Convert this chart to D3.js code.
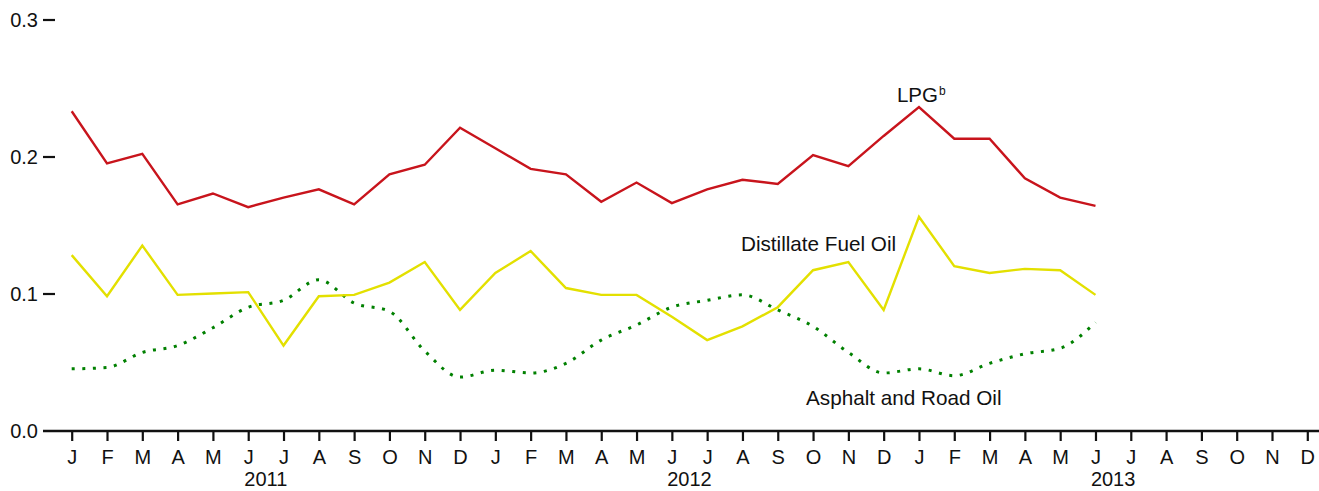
<!DOCTYPE html>
<html>
<head>
<meta charset="utf-8">
<script src="https://cdn.jsdelivr.net/npm/d3@7"></script>
<style>
  html, body { margin: 0; padding: 0; background: #fff; }
  svg text { font-family: "Liberation Sans", Arial, sans-serif; fill: #111; }
</style>
</head>
<body>
<svg id="chart" width="1319" height="491"></svg>
<script>
// ---- data ----
const months = ["J","F","M","A","M","J","J","A","S","O","N","D",
                "J","F","M","A","M","J","J","A","S","O","N","D",
                "J","F","M","A","M","J","J","A","S","O","N","D"];
const years = ["2011", "2012", "2013"];
const yTicks = [0.0, 0.1, 0.2, 0.3];

const lpg = [0.233, 0.195, 0.202, 0.165, 0.173, 0.163, 0.170, 0.176, 0.165, 0.187, 0.194, 0.221,
             0.206, 0.191, 0.187, 0.167, 0.181, 0.166, 0.176, 0.183, 0.180, 0.201, 0.193, 0.215,
             0.236, 0.213, 0.213, 0.184, 0.170, 0.164];
const distillate = [0.128, 0.098, 0.135, 0.099, 0.100, 0.101, 0.062, 0.098, 0.099, 0.108, 0.123, 0.088,
                    0.115, 0.131, 0.104, 0.099, 0.099, 0.083, 0.066, 0.076, 0.090, 0.117, 0.123, 0.088,
                    0.156, 0.120, 0.115, 0.118, 0.117, 0.099];
const asphalt = [0.045, 0.046, 0.057, 0.062, 0.075, 0.090, 0.095, 0.110, 0.093, 0.087, 0.058, 0.039,
                 0.044, 0.042, 0.049, 0.066, 0.077, 0.090, 0.095, 0.099, 0.088, 0.076, 0.057, 0.042,
                 0.045, 0.040, 0.049, 0.056, 0.060, 0.079];

// ---- chart ----
const svg = d3.select("#chart");
const idx = d3.range(months.length);
const x = d3.scalePoint().domain(idx).range([71.7, 1307.3]);
const xi = d3.scaleLinear().domain([0, months.length - 1]).range([71.7, 1307.3]);
const y = d3.scaleLinear().domain([0, 0.3]).range([430.5, 19.5]);

// y axis
const yAxis = svg.append("g").attr("transform", "translate(55,0)")
  .call(d3.axisLeft(y).tickValues(yTicks).tickFormat(d3.format(".1f")).tickSizeInner(12).tickSizeOuter(0).tickPadding(5));
yAxis.select(".domain").remove();
yAxis.selectAll("line").attr("stroke", "#111").attr("stroke-width", 2.2);
yAxis.selectAll("text").attr("font-size", 20).attr("fill", "#111").attr("dy", "0.35em");
yAxis.selectAll(".tick").filter(d => d === 0).select("line").remove();

// x axis
const xAxis = svg.append("g").attr("transform", "translate(0,431)")
  .call(d3.axisBottom(x).tickFormat(i => months[i]).tickSizeInner(10).tickSizeOuter(0).tickPadding(0));
xAxis.select(".domain").remove();
xAxis.selectAll("line").attr("stroke", "#111").attr("stroke-width", 2.2);
xAxis.selectAll("text").attr("font-size", 20).attr("fill", "#111").attr("y", 33).attr("dy", 0);

svg.append("line").attr("x1", 43).attr("x2", 1319).attr("y1", 431).attr("y2", 431)
  .attr("stroke", "#111").attr("stroke-width", 2.5);

svg.append("g").selectAll("text").data(years).join("text")
  .attr("x", (d, i) => xi(i * 12 + 5.5))
  .attr("y", 486)
  .attr("text-anchor", "middle")
  .attr("font-size", 20)
  .text(d => d);

// lines
const lineStraight = d3.line().x((d, i) => x(i)).y(d => y(d));
const lineCurve = d3.line().x((d, i) => x(i)).y(d => y(d)).curve(d3.curveMonotoneX);

svg.append("path").datum(asphalt).attr("d", lineCurve)
  .attr("fill", "none").attr("stroke", "#008000").attr("stroke-width", 3)
  .attr("stroke-dasharray", "3,7.6");
svg.append("path").datum(distillate).attr("d", lineStraight)
  .attr("fill", "none").attr("stroke", "#e3e000").attr("stroke-width", 2.4)
  .attr("stroke-linejoin", "miter");
svg.append("path").datum(lpg).attr("d", lineStraight)
  .attr("fill", "none").attr("stroke", "#c8141c").attr("stroke-width", 2.4)
  .attr("stroke-linejoin", "miter");

// labels
const lpgLabel = svg.append("text").attr("x", xi(24) - 22).attr("y", y(0.24)).attr("font-size", 20.5);
lpgLabel.append("tspan").text("LPG");
lpgLabel.append("tspan").attr("font-size", 12).attr("dy", -7).attr("dx", 1).text("b");

svg.append("text").attr("x", xi(19) - 1.5).attr("y", y(0.131)).attr("font-size", 20.7)
  .text("Distillate Fuel Oil");
svg.append("text").attr("x", xi(20.83) - 1).attr("y", y(0.0186)).attr("font-size", 20.7)
  .text("Asphalt and Road Oil");
</script>
</body>
</html>
